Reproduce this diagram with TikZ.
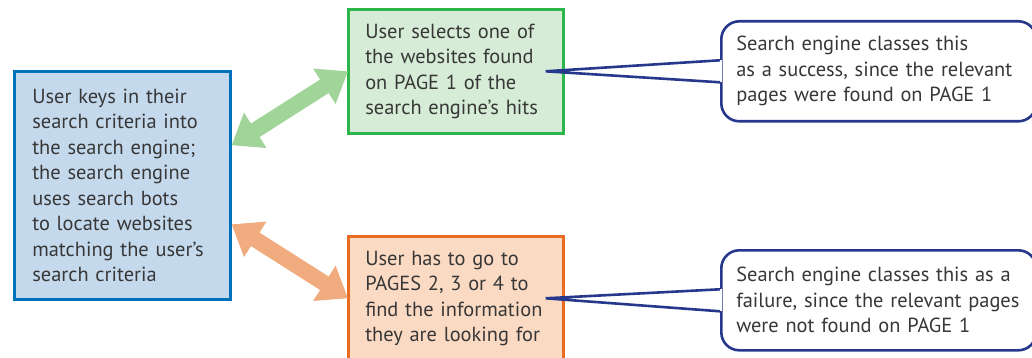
\documentclass[tikz,border=0pt]{standalone}
\usepackage{fontspec}
\setmainfont{PT Sans}
\usepackage{tikz}
\usetikzlibrary{arrows.meta,positioning,calc}

\definecolor{txtgray}{RGB}{55,55,55}
\definecolor{keyfill}{RGB}{197,217,237}
\definecolor{keyline}{RGB}{0,114,188}
\definecolor{okfill}{RGB}{214,236,214}
\definecolor{okline}{RGB}{45,182,75}
\definecolor{okarrow}{RGB}{160,212,152}
\definecolor{badfill}{RGB}{251,218,196}
\definecolor{badline}{RGB}{232,108,35}
\definecolor{badarrow}{RGB}{240,172,126}
\definecolor{noteline}{RGB}{38,56,140}

\tikzset{
  txt/.style={font=\fontsize{20.4}{25.5}\selectfont, text=txtgray, align=left},
  stepbox/.style={txt, draw=#1, line width=2.6pt, inner ysep=0pt},
  notebox/.style={txt, draw=noteline, fill=white, line width=2.6pt, rounded corners=18pt,
    minimum width=305pt, minimum height=100pt, text width=285pt, inner xsep=15pt, inner ysep=0pt},
  fatarrow/.style={draw=#1, line width=16pt,
    {Triangle[width=40pt,length=28pt]}-{Triangle[width=40pt,length=28pt]}},
}

\begin{document}
\begin{tikzpicture}[x=1pt,y=-1pt]
\clip (0,0) rectangle (1032,358);

% Boxes
\node[stepbox=keyline, fill=keyfill, anchor=north west, minimum width=216pt, minimum height=228pt,
  text width=180pt, inner xsep=18pt] (keys) at (13,70)
  {User keys in their\\search criteria into\\the search engine;\\the search engine\\uses search bots\\to locate websites\\matching the user’s\\search criteria};

\node[stepbox=okline, fill=okfill, anchor=north west, minimum width=215pt, minimum height=124pt,
  text width=181pt, inner xsep=17pt] (page1) at (347,8)
  {User selects one of\\the websites found\\on PAGE 1 of the\\search engine’s hits};

\node[stepbox=badline, fill=badfill, anchor=north west, minimum width=215pt, minimum height=124pt,
  text width=181pt, inner xsep=17pt] (later) at (347,235)
  {User has to go to\\PAGES 2, 3 or 4 to\\find the information\\they are looking for};

% Double arrows
\draw[fatarrow=okarrow] ($(keys.east)+(0,-40)$) -- ($(page1.west)+(1,0)$);
\draw[fatarrow=badarrow] ($(keys.east)+(0,39)$) -- ($(later.west)+(1,0)$);

% Callouts
\node[notebox, anchor=north west] (win) at (720,20)
  {Search engine classes this\\as a success, since the relevant\\pages were found on PAGE 1};
\node[notebox, anchor=north west] (lose) at (720,249)
  {Search engine classes this as a\\failure, since the relevant pages\\were not found on PAGE 1};

\coordinate (wintip) at ($(page1.east)+(-19,0)$);
\coordinate (losetip) at ($(later.east)+(-19,0)$);

\foreach \c/\t in {win/wintip, lose/losetip} {
  \fill[white] ($(\c.west)+(0,-11)$) -- (\t) -- ($(\c.west)+(0,11)$) -- cycle;
  \fill[white] ($(\c.west)+(-2,-11)$) rectangle ($(\c.west)+(2,11)$);
  \draw[noteline, line width=2.6pt, line join=miter]
    ($(\c.west)+(0,-11)$) -- (\t) -- ($(\c.west)+(0,11)$);
}
\end{tikzpicture}
\end{document}
